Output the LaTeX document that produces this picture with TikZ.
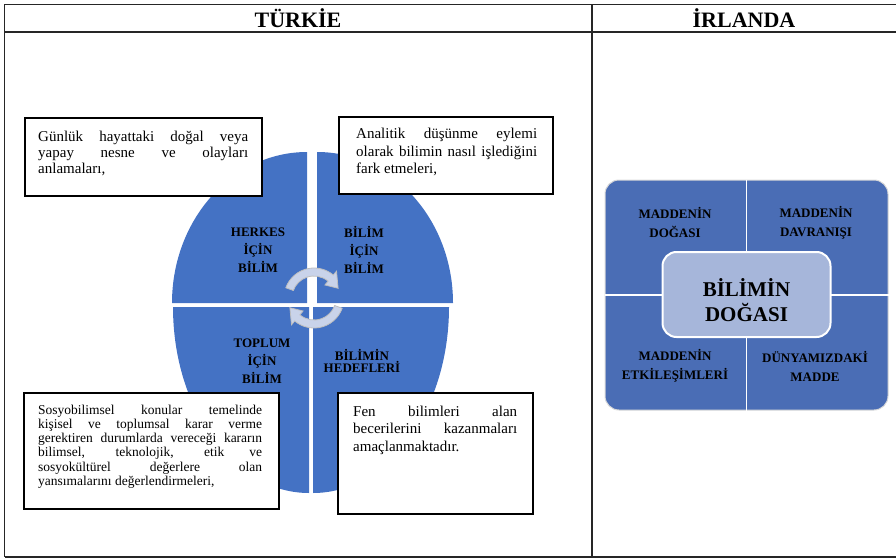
\documentclass[tikz,border=0pt]{standalone}
\usepackage{fontspec}
\setmainfont{Liberation Serif}
\definecolor{qblue}{HTML}{4472C4}
\definecolor{rblue}{HTML}{4A6DB5}
\definecolor{clight}{HTML}{A6B6DA}
\definecolor{arrowc}{HTML}{C9D3EA}
\tikzset{
  tline/.style={draw=black!85, line width=1.2pt},
  txtbox/.style={draw=black, line width=1.8pt, fill=white, anchor=north west, inner sep=0pt},
  para/.style={anchor=base west, inner sep=0pt, align=justify},
  qlabel/.style={font=\fontsize{13}{18}\selectfont\bfseries, align=center, inner sep=0pt},
  rlabel/.style={font=\fontsize{13}{19}\selectfont\bfseries, align=center, inner sep=0pt},
  headtxt/.style={font=\fontsize{22}{24}\selectfont\bfseries, inner sep=0pt},
  cycarrow/.style={fill=arrowc, draw=black!25, line width=0.8pt}
}
\newcommand{\parsetup}{\tolerance=10000\hbadness=10000\hyphenpenalty=10000}
\begin{document}
\begin{tikzpicture}[x=1pt,y=-1pt]
\path[use as bounding box] (0,0) rectangle (896,559);
% table
\draw[tline] (4.5,4.5) -- (896,4.5);
\draw[tline] (4.5,32) -- (896,32);
\draw[tline] (4.5,557) -- (896,557);
\draw[tline] (4.5,4.5) -- (4.5,557);
\draw[tline] (592,4.5) -- (592,557);
\node[headtxt] (h1) at (298,18.5) {TÜRKİE};
\node[headtxt] (h2) at (744,18.5) {İRLANDA};
% quadrants
\fill[qblue] (307,303) -- ++(-180:135) arc[start angle=-180,end angle=-90,x radius=135,y radius=151] -- cycle;
\fill[qblue] (317,303) -- ++(0:136) arc[start angle=0,end angle=-90,x radius=136,y radius=151] -- cycle;
\fill[qblue] (309,307) -- ++(180:136) arc[start angle=180,end angle=90,x radius=136,y radius=186] -- cycle;
\fill[qblue] (313,307) -- ++(0:136) arc[start angle=0,end angle=90,x radius=136,y radius=186] -- cycle;
% cycle arrows
\begin{scope}[shift={(314,298)}]
\draw[cycarrow] (-160:30) arc[start angle=-160,end angle=-50,radius=30] -- (-50:35) -- (-22:26) -- (-50:17) -- (-50:22) arc[start angle=-50,end angle=-160,radius=22] -- cycle;
\draw[cycarrow] (20:30) arc[start angle=20,end angle=130,radius=30] -- (130:35) -- (158:26) -- (130:17) -- (130:22) arc[start angle=130,end angle=20,radius=22] -- cycle;
\end{scope}
% quadrant labels
\node[qlabel] (q1) at (258,250) {HERKES\\İÇİN\\BİLİM};
\node[qlabel] (q2) at (364,250) {BİLİM\\İÇİN\\BİLİM};
\node[qlabel] (q3) at (262,361) {TOPLUM\\İÇİN\\BİLİM};
\node[qlabel, font=\fontsize{13}{12.5}\selectfont\bfseries] (q4) at (362,361) {BİLİMİN\\HEDEFLERİ};
% text boxes
\node[txtbox, minimum width=237pt, minimum height=78pt] (b1) at (24,117) {};
\node[txtbox, minimum width=214pt, minimum height=77pt] (b2) at (338,116) {};
\node[txtbox, minimum width=255pt, minimum height=116pt] (b3) at (23,392) {};
\node[txtbox, minimum width=195pt, minimum height=121pt] (b4) at (337,392) {};
\node[para, text width=210pt, font=\fontsize{15}{15.6}\selectfont\parsetup] (t1) at (38,142)
  {Günlük hayattaki doğal veya\linebreak yapay nesne ve olayları\linebreak anlamaları,};
\node[para, text width=181pt, font=\fontsize{15}{17.5}\selectfont\parsetup] (t2) at (356,139)
  {Analitik düşünme eylemi\linebreak olarak bilimin nasıl işlediğini\linebreak fark etmeleri,};
\node[para, text width=224pt, font=\fontsize{13.5}{14.3}\selectfont\parsetup] (t3) at (38,414)
  {Sosyobilimsel konular temelinde\linebreak kişisel ve toplumsal karar verme\linebreak gerektiren durumlarda vereceği kararın\linebreak bilimsel, teknolojik, etik ve\linebreak sosyokültürel değerlere olan\linebreak yansımalarını değerlendirmeleri,};
\node[para, text width=164pt, font=\fontsize{15}{17.5}\selectfont\parsetup] (t4) at (353,416)
  {Fen bilimleri alan\linebreak becerilerini kazanmaları\linebreak amaçlanmaktadır.};
% right panel
\node[draw=black!15, line width=1pt, fill=rblue, rounded corners=14pt, minimum width=283pt, minimum height=230pt, inner sep=0pt] (rp) at (746.5,295) {};
\draw[white, line width=1.5pt] (rp.north) -- (rp.south);
\draw[white, line width=1.5pt] (rp.west) -- (rp.east);
\node[draw=white, line width=2pt, fill=clight, rounded corners=14pt, minimum width=168pt, minimum height=85pt, inner sep=0pt] (cb) at (746.5,294.5) {};
\node[font=\fontsize{21}{25}\selectfont\bfseries, align=center, inner sep=0pt] (ct) at (746.5,300) {BİLİMİN\\DOĞASI};
\node[rlabel] (r1) at (675,222.5) {MADDENİN\\DOĞASI};
\node[rlabel] (r2) at (816,222.5) {MADDENİN\\DAVRANIŞI};
\node[rlabel] (r3) at (675,366) {MADDENİN\\ETKİLEŞİMLERİ};
\node[rlabel] (r4) at (815,366) {DÜNYAMIZDAKİ\\MADDE};
\end{tikzpicture}
\end{document}
